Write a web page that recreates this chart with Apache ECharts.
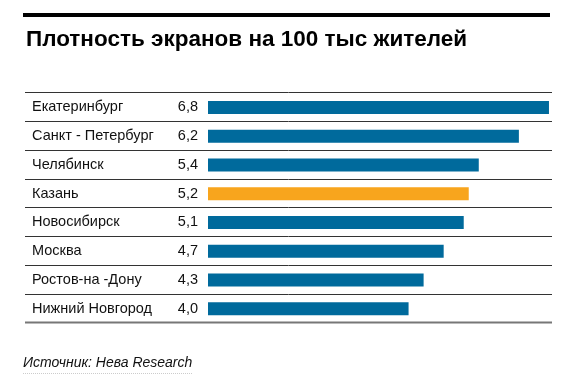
<!DOCTYPE html>
<html>
<head>
<meta charset="utf-8">
<script src="https://cdn.jsdelivr.net/npm/echarts@6/dist/echarts.min.js"></script>
<style>
html,body{margin:0;padding:0;background:#fff;}
#c{width:568px;height:390px;}
</style>
</head>
<body>
<div id="c"></div>
<script>
const cities = ['Екатеринбург','Санкт - Петербург','Челябинск','Казань','Новосибирск','Москва','Ростов-на -Дону','Нижний Новгород'];
const values = [6.8, 6.2, 5.4, 5.2, 5.1, 4.7, 4.3, 4.0];
const highlight = 'Казань';
const titleText = 'Плотность экранов на 100 тыс жителей';
const sourceText = 'Источник: Нева Research';

const BLUE = '#006a9c', ORANGE = '#f8a51d';
const gridLeft = 208, gridTop = 93, rowH = 28.75, gridW = 351;
const gridH = rowH * cities.length;
const lineTop = 92.3;

const chart = echarts.init(document.getElementById('c'), null, {renderer:'canvas'});

const graphics = [
  {type:'rect', shape:{x:23, y:13, width:527, height:4}, style:{fill:'#000'}},
  {type:'text', style:{text:sourceText, x:23, y:356, font:'italic 14px "Liberation Sans", Arial, sans-serif', fill:'#111'}},
  {type:'line', shape:{x1:23, y1:373.5, x2:193, y2:373.5}, style:{stroke:'#ccc', lineWidth:1, lineDash:[1,1]}}
];
for (let i = 0; i <= cities.length; i++) {
  const y = Math.round(lineTop + i * rowH) + 0.5;
  const last = i === cities.length;
  graphics.push({type:'line', shape:{x1:25, y1:y, x2:552, y2:y},
    style:{stroke: last ? '#777' : '#333', lineWidth: last ? 2 : 1}});
}

chart.setOption({
  animation:false,
  title:{text:titleText, left:21, top:23,
    textStyle:{fontFamily:'"Liberation Sans",Arial,sans-serif', fontWeight:'bold', fontSize:22.5, color:'#000'}},
  grid:{left:gridLeft, top:gridTop, width:gridW, height:gridH},
  xAxis:{type:'value', min:0, max:7, show:false},
  yAxis:{type:'category', data:cities, inverse:true,
    axisLine:{show:false}, axisTick:{show:false}, splitLine:{show:false},
    axisLabel:{align:'left', margin:176, fontSize:14.5, color:'#111', fontFamily:'"Liberation Sans", Arial, sans-serif'}},
  series:[{type:'bar', barWidth:13,
    data: values.map((v,i)=>({value:v, itemStyle:{color: cities[i]===highlight ? ORANGE : BLUE}})),
    label:{show:true, position:'left', distance:10, fontSize:14.5, color:'#111', fontFamily:'"Liberation Sans", Arial, sans-serif',
      formatter:p=>p.value.toFixed(1).replace('.',',')}
  }],
  graphic: graphics
});
</script>
</body>
</html>
